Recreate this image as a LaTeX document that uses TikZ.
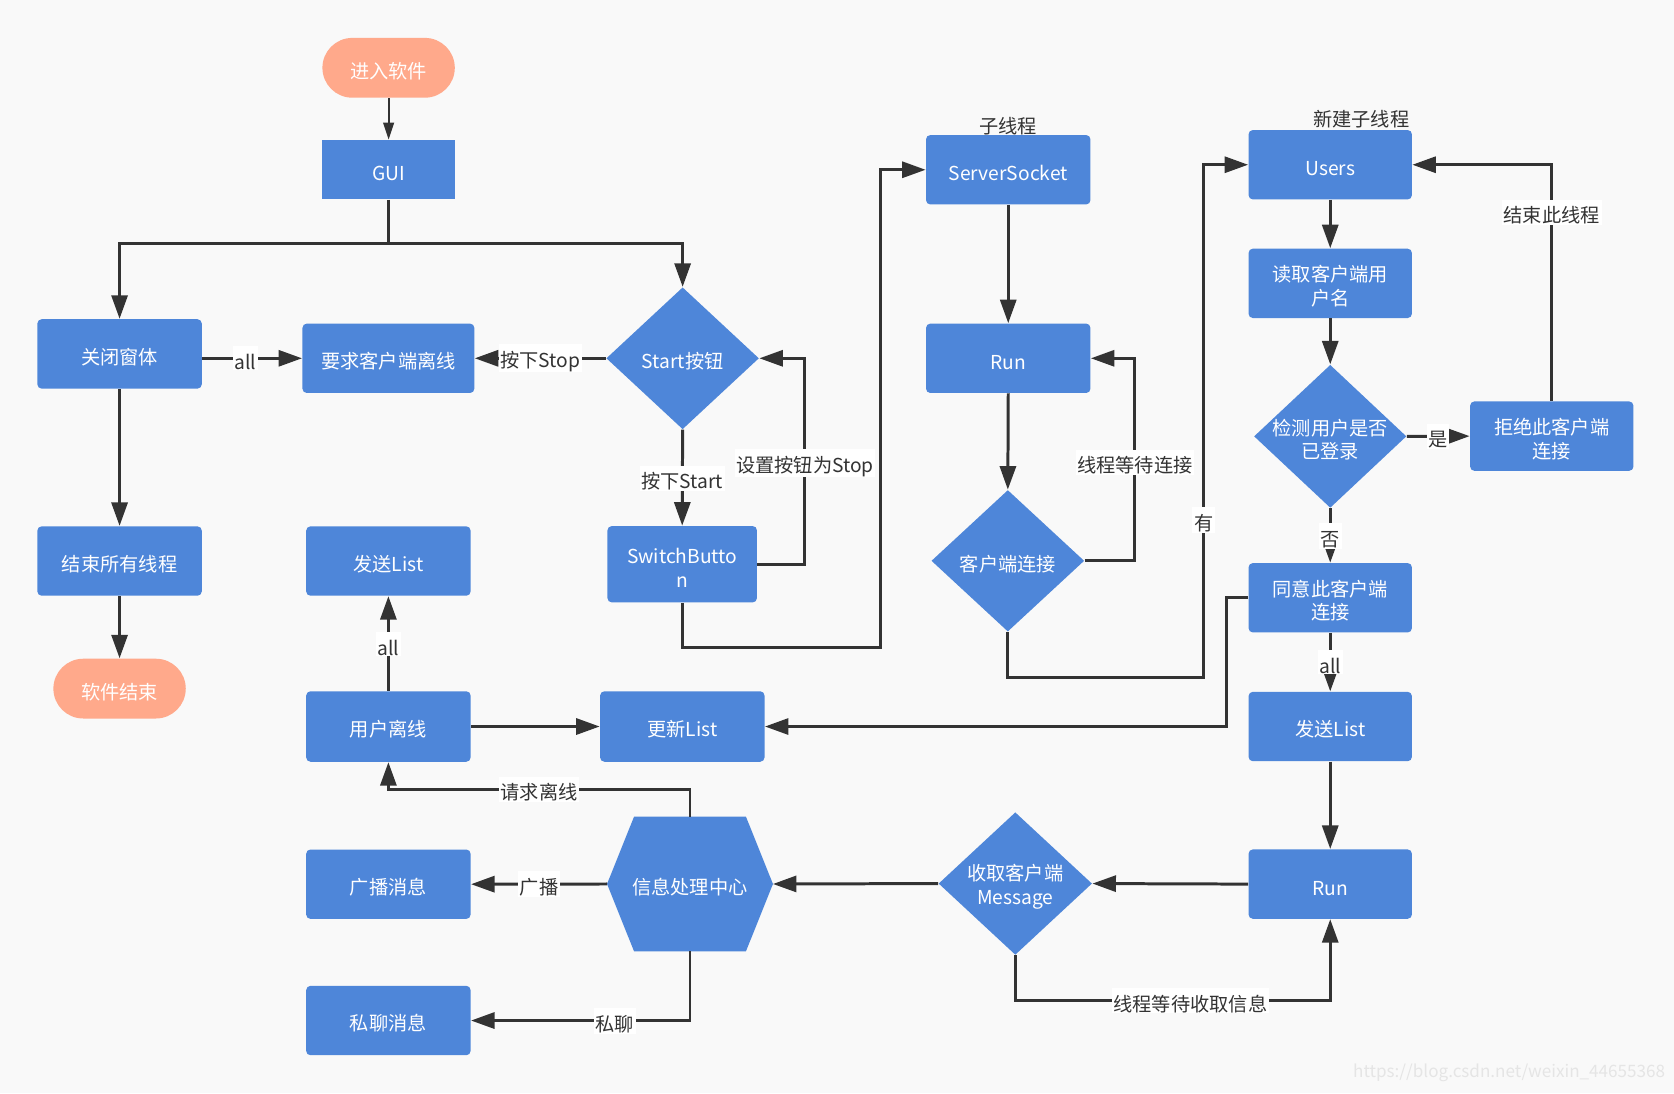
\documentclass[tikz,border=0pt]{standalone}
\usepackage{fontspec}
\setmainfont{Noto Sans CJK SC}
\usetikzlibrary{arrows.meta,shapes.geometric,calc}
\definecolor{nodeblue}{HTML}{4E86D9}
\definecolor{salmon}{HTML}{FFA98B}
\definecolor{linec}{HTML}{333333}
\definecolor{bgc}{HTML}{F9F9F9}
\newcommand{\lowerstrut}{\rule{0pt}{10.5pt}}
\begin{document}
\begin{tikzpicture}[x=0.5pt,y=-0.5pt,
  box/.style={draw=none, fill=nodeblue, rounded corners=2pt, text=white,
    font=\fontsize{9}{11}\selectfont, align=center, inner sep=0pt,
    minimum width=77pt, minimum height=32.5pt},
  pill/.style={box, fill=salmon, rounded corners=14pt, minimum width=62pt, minimum height=28pt},
  dia/.style={diamond, draw=none, fill=nodeblue, inner sep=0pt,
    minimum width=71.5pt, minimum height=66.5pt},
  ntext/.style={text=white, font=\fontsize{9}{11}\selectfont, align=center, inner sep=0pt},
  arr/.style={draw=linec, line width=1.4pt, -{Triangle[length=11pt,width=7.5pt]}},
  thinarr/.style={draw=linec, line width=1pt, -{Triangle[length=8pt,width=5pt]}},
  lbl/.style={fill=white, text=linec, font=\fontsize{9}{11}\selectfont, inner xsep=0.8pt, inner ysep=0.3pt},
  toplbl/.style={text=linec, font=\fontsize{9}{11}\selectfont, inner sep=0pt}
]
\path[use as bounding box, fill=bgc] (0,0) rectangle (1568,1024);

% ---------- nodes ----------
\node[pill] (enter) at (364,63.5) {\lowerstrut 进入软件};
\node[box, rounded corners=0pt, minimum width=62.4pt, minimum height=27.8pt] (gui) at (364,159) {\lowerstrut GUI};
\node[box] (close) at (112,331.5) {\lowerstrut 关闭窗体};
\node[box, minimum width=80.5pt] (req) at (363.8,335.6) {\lowerstrut 要求客户端离线};
\node[dia] (sbtn) at (639.4,335.6) {};
\node[ntext] (sbtnt) at (sbtn) {\lowerstrut Start按钮};
\node[box, minimum width=70pt, minimum height=35.75pt] (switch) at (639,528.5) {\lowerstrut SwitchButto\\n};
\node[box] (ss) at (944.4,159) {\lowerstrut ServerSocket};
\node[toplbl] (sslbl) at (944,118) {子线程};
\node[box] (run1) at (944.4,335.6) {\lowerstrut Run};
\node[dia, minimum width=71.6pt, minimum height=66.3pt] (cc) at (944,525.3) {};
\node[ntext] (cct) at (cc) {\lowerstrut 客户端连接};
\node[box, minimum width=76.5pt] (users) at (1246,154.3) {\lowerstrut Users};
\node[toplbl] (userslbl) at (1275,112) {新建子线程};
\node[box, minimum width=76.5pt] (read) at (1246,265.4) {\lowerstrut 读取客户端用\\户名};
\node[dia, minimum width=71.4pt, minimum height=67pt] (chk) at (1246,408.7) {};
\node[ntext] (chkt) at (chk) {\lowerstrut 检测用户是否\\已登录};
\node[box, minimum width=76.5pt] (rej) at (1453.5,408.5) {\lowerstrut 拒绝此客户端\\连接};
\node[box, minimum width=76.5pt] (agree) at (1246,559.9) {\lowerstrut 同意此客户端\\连接};
\node[box, minimum width=76.5pt] (send2) at (1246,680.5) {\lowerstrut 发送List};
\node[box, minimum width=76.5pt] (run2) at (1246,828.1) {\lowerstrut Run};
\node[dia, minimum width=71.9pt, minimum height=66.8pt] (recv) at (951,827.6) {};
\node[ntext] (recvt) at (recv) {\lowerstrut 收取客户端\\Message};
\node[draw=none, inner sep=0pt, minimum width=77.3pt, minimum height=62.7pt] (hex) at (646.3,828) {};
\fill[nodeblue] (hex.west) -- ($(hex.north)+(-52.4,0)$) -- ($(hex.north)+(52.4,0)$) -- (hex.east)
  -- ($(hex.south)+(52.4,0)$) -- ($(hex.south)+(-52.4,0)$) -- cycle;
\node[ntext] (hext) at (hex) {\lowerstrut 信息处理中心};
\node[box, minimum height=33pt] (off) at (363.8,680.5) {\lowerstrut 用户离线};
\node[box] (send1) at (363.8,525.5) {\lowerstrut 发送List};
\node[box, minimum height=33pt] (upd) at (639.1,680.5) {\lowerstrut 更新List};
\node[box] (endall) at (112,525.5) {\lowerstrut 结束所有线程};
\node[pill] (fin) at (112,645) {\lowerstrut 软件结束};
\node[box] (bc) at (363.8,828.2) {\lowerstrut 广播消息};
\node[box] (pm) at (363.8,955.9) {\lowerstrut 私聊消息};

% ---------- helper coordinates ----------
\coordinate (br) at (364,228);
\coordinate (c7) at (754,335.6);
\coordinate (c8) at (824.6,606.5);
\coordinate (c11) at (1063,335.6);
\coordinate (c12) at (1127.4,634.6);
\coordinate (c18) at (1149.2,680.5);
\coordinate (c22) at (1246,937.3);
\coordinate (c24) at (363.8,739.2);

% ---------- connectors ----------
\draw[thinarr] (enter) -- (gui);
\draw[arr] (gui.south) -- (br) -| (close.north);
\draw[arr] (br) -| (sbtn.north);
\draw[arr] (close.east |- req.west) -- (req.west);
\draw[arr] (sbtn.west) -- (req.east);
\draw[arr] (sbtn.south) -- (switch.north);
\draw[arr] (switch.east) -| (c7) -- (sbtn.east);
\draw[arr] (switch.south) |- (c8) |- (ss.west);
\draw[arr] (ss.south) -- (run1.north);
\draw[arr] (run1.south) -- (cc.north);
\draw[arr] (cc.east) -| (c11) -- (run1.east);
\draw[arr] (cc.south) |- (c12) |- (users.west);
\draw[arr] (users.south) -- (read.north);
\draw[arr] (read.south) -- (chk.north);
\draw[arr] (chk.east) -- (rej.west);
\draw[arr] (chk.south) -- (agree.north);
\draw[arr] (rej.north) |- (users.east);
\draw[arr] (agree.west) -| (c18) -- (upd.east);
\draw[arr] (agree.south) -- (send2.north);
\draw[arr] (send2.south) -- (run2.north);
\draw[arr] (run2.west) -- (recv.east);
\draw[arr] (recv.south) |- (c22) -- (run2.south);
\draw[arr] (recv.west) -- (hex.east);
\draw[arr] (hex.north) |- (c24) -- (off.south);
\draw[arr] (hex.west) -- (bc.east);
\draw[arr] (hex.south) |- (pm.east);
\draw[arr] (off.north) -- (send1.south);
\draw[arr] (off.east) -- (upd.west);
\draw[arr] (close.south) -- (endall.north);
\draw[arr] (endall.south) -- (fin.north);

% ---------- connector labels ----------
\node[lbl] (l1) at (230,335.6) {\lowerstrut all};
\node[lbl] (l2) at (506,335.6) {\lowerstrut 按下Stop};
\node[lbl] (l3) at (639,448) {\lowerstrut 按下Start};
\node[lbl] (l4) at (754,434) {\lowerstrut 设置按钮为Stop};
\node[lbl] (l5) at (1063,433) {\lowerstrut 线程等待连接};
\node[lbl] (l6) at (1127.4,487) {\lowerstrut 有};
\node[lbl] (l7) at (1453.5,199) {\lowerstrut 结束此线程};
\node[lbl] (l8) at (1347,408.7) {\lowerstrut 是};
\node[lbl] (l9) at (1246,502) {\lowerstrut 否};
\node[lbl] (l10) at (1246,620.5) {\lowerstrut all};
\node[lbl] (l11) at (363.8,603.5) {\lowerstrut all};
\node[lbl] (l12) at (505,739.2) {\lowerstrut 请求离线};
\node[lbl] (l13) at (505,828) {\lowerstrut 广播};
\node[lbl] (l14) at (576,956.3) {\lowerstrut 私聊};
\node[lbl] (l15) at (1115,937.3) {\lowerstrut 线程等待收取信息};

% ---------- watermark ----------
\node[anchor=east, text=black!10, font=\fontsize{8}{10}\selectfont, inner sep=0pt] (wm) at (1560,1005) {https://blog.csdn.net/weixin\_44655368};
\end{tikzpicture}
\end{document}
